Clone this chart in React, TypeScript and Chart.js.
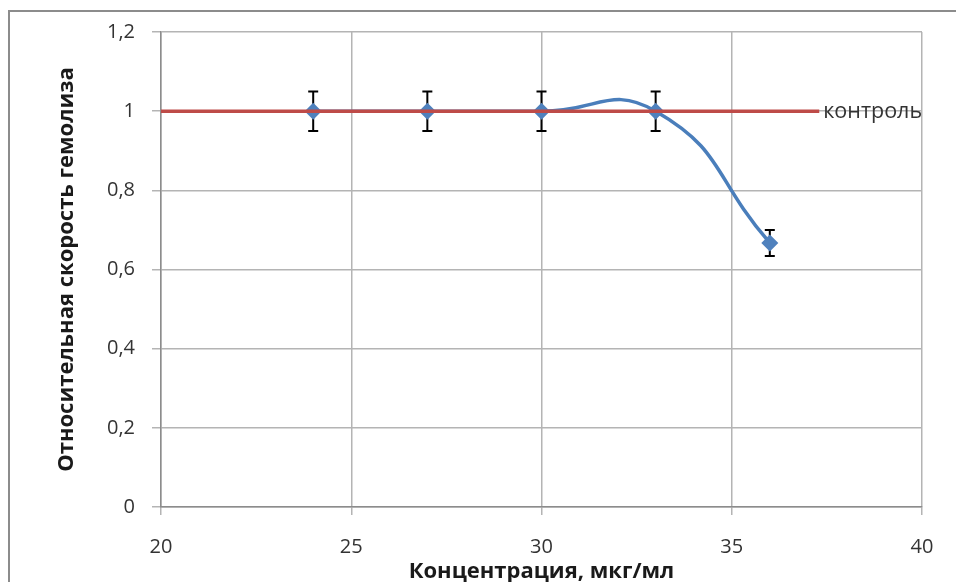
import React, { useEffect, useRef } from "react";
import { Chart, registerables } from "chart.js";

Chart.register(...registerables);

const concentrations = [24, 27, 30, 33, 36];
const hemolysisRate = [1, 1, 1, 1, 0.667];
const errors = [0.05, 0.05, 0.05, 0.05, 0.033];
const controlX = [20, 37.3];
const controlY = [1, 1];
const controlLabel = "контроль";
const xTitle = "Концентрация, мкг/мл";
const yTitle = "Относительная скорость гемолиза";

const FONT = "'Open Sans', sans-serif";

const framePlugin = {
  id: "frame",
  beforeDraw(chart: any) {
    const ctx = chart.ctx;
    ctx.save();
    ctx.fillStyle = "#ffffff";
    ctx.fillRect(0, 0, chart.width, chart.height);
    ctx.strokeStyle = "#8c8c8c";
    ctx.lineWidth = 2;
    ctx.beginPath();
    ctx.moveTo(9, chart.height + 5);
    ctx.lineTo(9, 11);
    ctx.lineTo(chart.width + 5, 11);
    ctx.stroke();
    ctx.restore();
  },
};

const errorBarPlugin = {
  id: "errorBars",
  beforeDatasetsDraw(chart: any) {
    const ctx = chart.ctx;
    const xs = chart.scales.x;
    const ys = chart.scales.y;
    ctx.save();
    ctx.strokeStyle = "#000000";
    ctx.lineWidth = 2;
    concentrations.forEach((c, i) => {
      const px = xs.getPixelForValue(c);
      const top = ys.getPixelForValue(hemolysisRate[i] + errors[i]);
      const bot = ys.getPixelForValue(hemolysisRate[i] - errors[i]);
      ctx.beginPath();
      ctx.moveTo(px, top);
      ctx.lineTo(px, bot);
      ctx.moveTo(px - 5, top);
      ctx.lineTo(px + 5, top);
      ctx.moveTo(px - 5, bot);
      ctx.lineTo(px + 5, bot);
      ctx.stroke();
    });
    ctx.restore();
  },
  afterDatasetsDraw(chart: any) {
    const ctx = chart.ctx;
    const xs = chart.scales.x;
    const ys = chart.scales.y;
    ctx.save();
    const lx = xs.getPixelForValue(controlX[controlX.length - 1]);
    const ly = ys.getPixelForValue(controlY[controlY.length - 1]);
    ctx.fillStyle = "#333333";
    ctx.font = `21.5px ${FONT}`;
    ctx.textAlign = "left";
    ctx.textBaseline = "middle";
    ctx.fillText(controlLabel, lx + 4, ly + 1);
    ctx.restore();
  },
};

export default function App() {
  const ref = useRef<HTMLCanvasElement | null>(null);
  useEffect(() => {
    if (!ref.current) return;
    const chart = new Chart(ref.current, {
      type: "scatter",
      data: {
        datasets: [
          {
            label: "control",
            data: controlX.map((x, i) => ({ x, y: controlY[i] })),
            showLine: true,
            borderColor: "#be4b48",
            borderWidth: 3.5,
            pointRadius: 0,
            order: 0,
          },
          {
            label: "rate",
            data: concentrations.map((x, i) => ({ x, y: hemolysisRate[i] })),
            showLine: true,
            borderColor: "#4a7ebb",
            backgroundColor: "#4f81bd",
            pointBorderColor: "#4f81bd",
            borderWidth: 3.5,
            tension: 0.5,
            pointStyle: "rectRot",
            pointRadius: 8.5,
            pointBorderWidth: 0,
            order: 1,
          },
        ],
      },
      options: {
        responsive: false,
        animation: false,
        layout: { padding: { top: 32, right: 34, left: 0, bottom: 0 } },
        plugins: {
          legend: { display: false },
          tooltip: { enabled: false },
        },
        scales: {
          x: {
            type: "linear",
            min: 20,
            max: 40,
            afterFit: (s: any) => {
              s.height = 75;
            },
            ticks: {
              stepSize: 5,
              padding: 20,
              color: "#333333",
              font: { family: FONT, size: 20 },
            },
            grid: { color: "#b4b4b4", lineWidth: 1.5, tickLength: 8 },
            border: { color: "#8c8c8c", width: 1.5 },
            title: {
              display: true,
              text: xTitle,
              color: "#1a1a1a",
              font: { family: FONT, size: 22, weight: "bold" },
              padding: { top: 0, bottom: -3 },
            },
          },
          y: {
            type: "linear",
            min: 0,
            max: 1.2,
            afterFit: (s: any) => {
              s.width = 161;
            },
            ticks: {
              stepSize: 0.2,
              padding: 17,
              color: "#333333",
              font: { family: FONT, size: 20 },
              callback: (v: any) =>
                String(Math.round(Number(v) * 10) / 10).replace(".", ","),
            },
            grid: { color: "#b4b4b4", lineWidth: 1.5, tickLength: 9 },
            border: { color: "#8c8c8c", width: 1.5 },
            title: {
              display: true,
              text: yTitle,
              color: "#1a1a1a",
              font: { family: FONT, size: 22, weight: "bold" },
              padding: { top: 54, bottom: 0 },
            },
          },
        },
      },
      plugins: [framePlugin, errorBarPlugin],
    });
    return () => chart.destroy();
  }, []);
  return (
    <div style={{ position: "fixed", left: 0, top: 0, width: 956, height: 582 }}>
      <canvas ref={ref} width={956} height={582} />
    </div>
  );
}
